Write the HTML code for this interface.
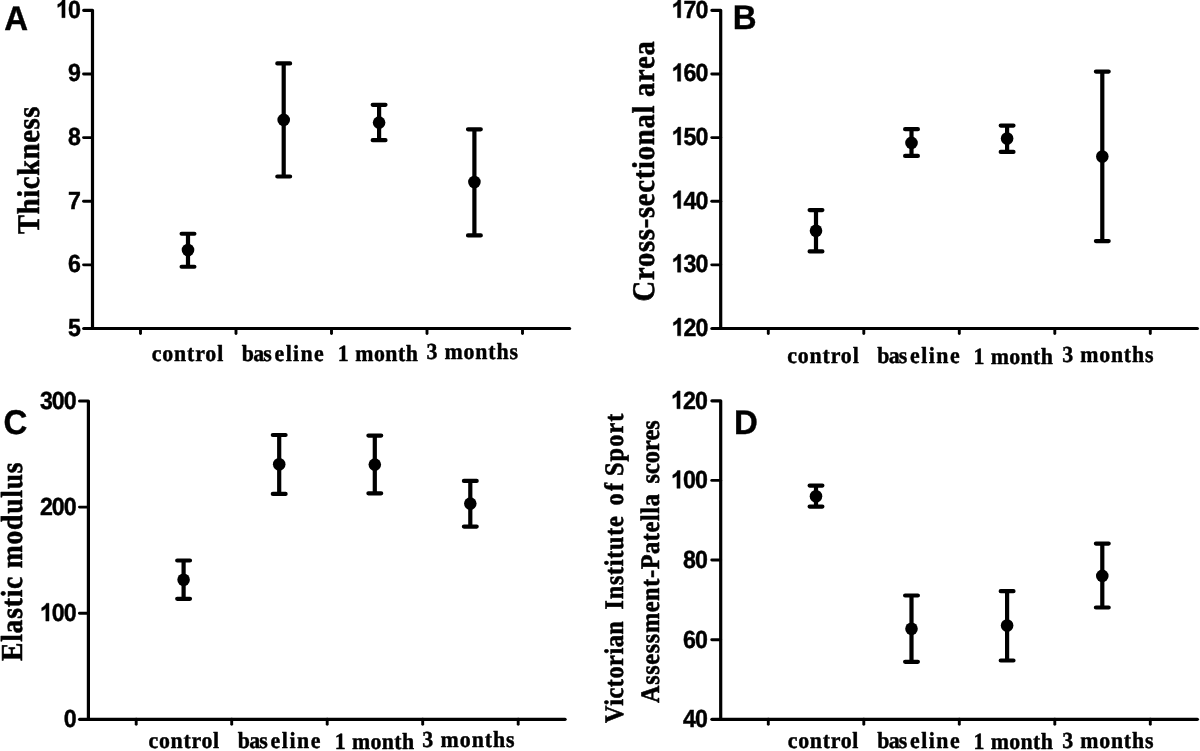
<!DOCTYPE html>
<html><head><meta charset="utf-8"><title>Figure</title>
<style>
html,body{margin:0;padding:0;background:#fff;}
body{width:1200px;height:751px;overflow:hidden;font-family:"Liberation Sans",sans-serif;}
svg{display:block;text-rendering:geometricPrecision;will-change:transform;}
.ax{stroke:#000;stroke-width:3.2;fill:none;stroke-linecap:round;stroke-linejoin:round;}
.tk{stroke:#000;stroke-width:2.9;fill:none;stroke-linecap:butt;}
.eb{stroke:#000;stroke-width:4.2;fill:none;stroke-linecap:round;}
.dot{fill:#000;}
.num{font-family:"Liberation Sans",sans-serif;font-weight:bold;font-size:24.8px;text-anchor:start;fill:#000;stroke:#000;stroke-width:0.45;stroke-linejoin:round;}
.one{fill:#000;stroke:#000;stroke-width:37.2;stroke-linejoin:round;}
.let{font-family:"Liberation Sans",sans-serif;font-weight:bold;font-size:33px;fill:#000;stroke:#000;stroke-width:0.4;stroke-linejoin:round;}
.xl{font-family:"Liberation Serif",serif;font-weight:bold;font-size:23px;fill:#000;stroke:#000;stroke-width:0.45;stroke-linejoin:round;}
.yl{font-family:"Liberation Serif",serif;font-weight:bold;fill:#000;stroke:#000;stroke-width:0.55;stroke-linejoin:round;}
</style></head><body>
<svg width="1200" height="751" viewBox="0 0 1200 751">
<rect width="1200" height="751" fill="#fff"/>
<g id="panelA">
<path class="ax" d="M83.70 10.35 H92.50 V328.50"/>
<path class="ax" d="M83.70 328.50 H569.60"/>
<g transform="translate(80.80 17.65) scale(0.935 1)">
<path class="one" transform="translate(-26.59 0) scale(0.012109 -0.012109)" d="M806 0H525V1059Q371 915 162 846V1101Q272 1137 401 1237.5Q530 1338 578 1472H806Z"/>
<text class="num" x="-13.79" y="0">0</text>
</g>
<path class="tk" style="stroke-linecap:round" d="M83.55 73.98 H92.50"/>
<g transform="translate(80.80 81.28) scale(0.935 1)">
<text class="num" x="-13.79" y="0">9</text>
</g>
<path class="tk" style="stroke-linecap:round" d="M83.55 137.61 H92.50"/>
<g transform="translate(80.80 144.91) scale(0.935 1)">
<text class="num" x="-13.79" y="0">8</text>
</g>
<path class="tk" style="stroke-linecap:round" d="M83.55 201.24 H92.50"/>
<g transform="translate(80.80 208.54) scale(0.935 1)">
<text class="num" x="-13.79" y="0">7</text>
</g>
<path class="tk" style="stroke-linecap:round" d="M83.55 264.87 H92.50"/>
<g transform="translate(80.80 272.17) scale(0.935 1)">
<text class="num" x="-13.79" y="0">6</text>
</g>
<g transform="translate(80.80 335.80) scale(0.935 1)">
<text class="num" x="-13.79" y="0">5</text>
</g>
<path class="tk" style="stroke-linecap:round" d="M140.50 328.50 V333.45"/>
<path class="tk" style="stroke-linecap:round" d="M236.00 328.50 V333.45"/>
<path class="tk" style="stroke-linecap:round" d="M331.50 328.50 V333.45"/>
<path class="tk" style="stroke-linecap:round" d="M427.00 328.50 V333.45"/>
<path class="tk" style="stroke-linecap:round" d="M522.50 328.50 V333.45"/>
<path class="eb" d="M188.00 233.75 V266.75 M181.60 233.75 H194.40 M181.60 266.75 H194.40"/>
<circle class="dot" cx="188.00" cy="250.00" r="6.3"/>
<path class="eb" d="M283.70 63.40 V176.50 M277.30 63.40 H290.10 M277.30 176.50 H290.10"/>
<circle class="dot" cx="283.70" cy="119.90" r="6.3"/>
<path class="eb" d="M379.10 104.80 V140.20 M372.70 104.80 H385.50 M372.70 140.20 H385.50"/>
<circle class="dot" cx="379.10" cy="122.60" r="6.3"/>
<path class="eb" d="M474.40 129.30 V235.40 M468.00 129.30 H480.80 M468.00 235.40 H480.80"/>
<circle class="dot" cx="474.40" cy="182.05" r="6.3"/>
<text class="let" transform="translate(4.20 29.65) scale(1 1.04)">A</text>
<text class="xl" transform="translate(151.80 360.50) scale(0.95 1.0)" textLength="75.16" lengthAdjust="spacing">control</text>
<text class="xl" transform="translate(241.80 360.50) scale(0.95 1.0)" textLength="31.58" lengthAdjust="spacing">bas</text>
<text class="xl" transform="translate(274.60 360.50) scale(0.95 1.0)" textLength="51.68" lengthAdjust="spacing">eline</text>
<text class="xl" transform="translate(337.80 360.70) scale(0.95 1.0)" textLength="84.32" lengthAdjust="spacing">1 month</text>
<text class="xl" transform="translate(426.50 359.40) scale(0.95 1.0)" textLength="96.21" lengthAdjust="spacing">3 months</text>
<text class="yl" font-size="30" transform="translate(39.40 234.00) rotate(-90) scale(0.95 1.05)" textLength="134.11" lengthAdjust="spacing">Thickness</text>
</g>
<g id="panelB">
<path class="ax" d="M711.90 10.35 H720.70 V328.50"/>
<path class="ax" d="M711.90 328.50 H1197.40"/>
<g transform="translate(708.40 17.65) scale(0.935 1)">
<path class="one" transform="translate(-39.38 0) scale(0.012109 -0.012109)" d="M806 0H525V1059Q371 915 162 846V1101Q272 1137 401 1237.5Q530 1338 578 1472H806Z"/>
<text class="num" x="-26.59 -13.79" y="0">70</text>
</g>
<path class="tk" style="stroke-linecap:round" d="M711.75 73.98 H720.70"/>
<g transform="translate(708.40 81.28) scale(0.935 1)">
<path class="one" transform="translate(-39.38 0) scale(0.012109 -0.012109)" d="M806 0H525V1059Q371 915 162 846V1101Q272 1137 401 1237.5Q530 1338 578 1472H806Z"/>
<text class="num" x="-26.59 -13.79" y="0">60</text>
</g>
<path class="tk" style="stroke-linecap:round" d="M711.75 137.61 H720.70"/>
<g transform="translate(708.40 144.91) scale(0.935 1)">
<path class="one" transform="translate(-39.38 0) scale(0.012109 -0.012109)" d="M806 0H525V1059Q371 915 162 846V1101Q272 1137 401 1237.5Q530 1338 578 1472H806Z"/>
<text class="num" x="-26.59 -13.79" y="0">50</text>
</g>
<path class="tk" style="stroke-linecap:round" d="M711.75 201.24 H720.70"/>
<g transform="translate(708.40 208.54) scale(0.935 1)">
<path class="one" transform="translate(-39.38 0) scale(0.012109 -0.012109)" d="M806 0H525V1059Q371 915 162 846V1101Q272 1137 401 1237.5Q530 1338 578 1472H806Z"/>
<text class="num" x="-26.59 -13.79" y="0">40</text>
</g>
<path class="tk" style="stroke-linecap:round" d="M711.75 264.87 H720.70"/>
<g transform="translate(708.40 272.17) scale(0.935 1)">
<path class="one" transform="translate(-39.38 0) scale(0.012109 -0.012109)" d="M806 0H525V1059Q371 915 162 846V1101Q272 1137 401 1237.5Q530 1338 578 1472H806Z"/>
<text class="num" x="-26.59 -13.79" y="0">30</text>
</g>
<g transform="translate(708.40 335.80) scale(0.935 1)">
<path class="one" transform="translate(-39.38 0) scale(0.012109 -0.012109)" d="M806 0H525V1059Q371 915 162 846V1101Q272 1137 401 1237.5Q530 1338 578 1472H806Z"/>
<text class="num" x="-26.59 -13.79" y="0">20</text>
</g>
<path class="tk" style="stroke-linecap:round" d="M768.30 328.50 V333.45"/>
<path class="tk" style="stroke-linecap:round" d="M863.80 328.50 V333.45"/>
<path class="tk" style="stroke-linecap:round" d="M959.30 328.50 V333.45"/>
<path class="tk" style="stroke-linecap:round" d="M1054.80 328.50 V333.45"/>
<path class="tk" style="stroke-linecap:round" d="M1150.30 328.50 V333.45"/>
<path class="eb" d="M816.00 210.10 V251.40 M809.60 210.10 H822.40 M809.60 251.40 H822.40"/>
<circle class="dot" cx="816.00" cy="230.80" r="6.3"/>
<path class="eb" d="M911.50 129.20 V155.90 M905.10 129.20 H917.90 M905.10 155.90 H917.90"/>
<circle class="dot" cx="911.50" cy="142.90" r="6.3"/>
<path class="eb" d="M1007.10 125.60 V151.90 M1000.70 125.60 H1013.50 M1000.70 151.90 H1013.50"/>
<circle class="dot" cx="1007.10" cy="138.50" r="6.3"/>
<path class="eb" d="M1102.30 71.60 V241.10 M1095.90 71.60 H1108.70 M1095.90 241.10 H1108.70"/>
<circle class="dot" cx="1102.30" cy="156.50" r="6.3"/>
<text class="let" transform="translate(732.80 28.70) scale(1 1.04)">B</text>
<text class="xl" transform="translate(787.30 363.40) scale(0.95 1.0)" textLength="75.16" lengthAdjust="spacing">control</text>
<text class="xl" transform="translate(877.30 363.40) scale(0.95 1.0)" textLength="31.58" lengthAdjust="spacing">bas</text>
<text class="xl" transform="translate(910.10 363.40) scale(0.95 1.0)" textLength="52.16" lengthAdjust="spacing">eline</text>
<text class="xl" transform="translate(973.55 363.50) scale(0.95 1.0)" textLength="83.53" lengthAdjust="spacing">1 month</text>
<text class="xl" transform="translate(1062.30 361.90) scale(0.95 1.0)" textLength="95.89" lengthAdjust="spacing">3 months</text>
<text class="yl" font-size="30" transform="translate(654.20 301.40) rotate(-90) scale(0.95 1.05)" textLength="273.79" lengthAdjust="spacing">Cross-sectional area</text>
</g>
<g id="panelC">
<path class="ax" d="M79.60 401.00 H88.40 V719.30"/>
<path class="ax" d="M79.60 719.30 H565.10"/>
<g transform="translate(76.70 408.90) scale(0.935 1)">
<text class="num" x="-39.38 -26.59 -13.79" y="0">300</text>
</g>
<path class="tk" style="stroke-linecap:round" d="M79.45 507.10 H88.40"/>
<g transform="translate(76.70 515.00) scale(0.935 1)">
<text class="num" x="-39.38 -26.59 -13.79" y="0">200</text>
</g>
<path class="tk" style="stroke-linecap:round" d="M79.45 613.20 H88.40"/>
<g transform="translate(76.70 621.10) scale(0.935 1)">
<path class="one" transform="translate(-39.38 0) scale(0.012109 -0.012109)" d="M806 0H525V1059Q371 915 162 846V1101Q272 1137 401 1237.5Q530 1338 578 1472H806Z"/>
<text class="num" x="-26.59 -13.79" y="0">00</text>
</g>
<g transform="translate(76.70 727.20) scale(0.935 1)">
<text class="num" x="-13.79" y="0">0</text>
</g>
<path class="tk" style="stroke-linecap:round" d="M136.20 719.30 V724.25"/>
<path class="tk" style="stroke-linecap:round" d="M231.70 719.30 V724.25"/>
<path class="tk" style="stroke-linecap:round" d="M327.20 719.30 V724.25"/>
<path class="tk" style="stroke-linecap:round" d="M422.70 719.30 V724.25"/>
<path class="tk" style="stroke-linecap:round" d="M518.20 719.30 V724.25"/>
<path class="eb" d="M183.60 560.50 V598.80 M177.20 560.50 H190.00 M177.20 598.80 H190.00"/>
<circle class="dot" cx="183.60" cy="579.80" r="6.3"/>
<path class="eb" d="M279.20 435.00 V493.90 M272.80 435.00 H285.60 M272.80 493.90 H285.60"/>
<circle class="dot" cx="279.20" cy="464.30" r="6.3"/>
<path class="eb" d="M374.80 435.60 V493.30 M368.40 435.60 H381.20 M368.40 493.30 H381.20"/>
<circle class="dot" cx="374.80" cy="464.60" r="6.3"/>
<path class="eb" d="M470.30 480.90 V526.60 M463.90 480.90 H476.70 M463.90 526.60 H476.70"/>
<circle class="dot" cx="470.30" cy="503.60" r="6.3"/>
<text class="let" transform="translate(3.40 433.90) scale(1 1.04)">C</text>
<text class="xl" transform="translate(148.55 748.00) scale(0.95 1.0)" textLength="74.32" lengthAdjust="spacing">control</text>
<text class="xl" transform="translate(237.80 748.00) scale(0.95 1.0)" textLength="31.58" lengthAdjust="spacing">bas</text>
<text class="xl" transform="translate(270.60 748.00) scale(0.95 1.0)" textLength="52.42" lengthAdjust="spacing">eline</text>
<text class="xl" transform="translate(334.80 748.70) scale(0.95 1.0)" textLength="83.53" lengthAdjust="spacing">1 month</text>
<text class="xl" transform="translate(422.30 747.20) scale(0.95 1.0)" textLength="97.16" lengthAdjust="spacing">3 months</text>
<text class="yl" font-size="29" transform="translate(22.00 661.00) rotate(-90) scale(0.95 1.05)" textLength="209.05" lengthAdjust="spacing">Elastic modulus</text>
</g>
<g id="panelD">
<path class="ax" d="M711.90 400.80 H720.70 V719.30"/>
<path class="ax" d="M711.90 719.30 H1197.40"/>
<g transform="translate(707.80 408.70) scale(0.935 1)">
<path class="one" transform="translate(-39.38 0) scale(0.012109 -0.012109)" d="M806 0H525V1059Q371 915 162 846V1101Q272 1137 401 1237.5Q530 1338 578 1472H806Z"/>
<text class="num" x="-26.59 -13.79" y="0">20</text>
</g>
<path class="tk" style="stroke-linecap:round" d="M711.75 480.40 H720.70"/>
<g transform="translate(707.80 488.30) scale(0.935 1)">
<path class="one" transform="translate(-39.38 0) scale(0.012109 -0.012109)" d="M806 0H525V1059Q371 915 162 846V1101Q272 1137 401 1237.5Q530 1338 578 1472H806Z"/>
<text class="num" x="-26.59 -13.79" y="0">00</text>
</g>
<path class="tk" style="stroke-linecap:round" d="M711.75 560.00 H720.70"/>
<g transform="translate(707.80 567.90) scale(0.935 1)">
<text class="num" x="-26.59 -13.79" y="0">80</text>
</g>
<path class="tk" style="stroke-linecap:round" d="M711.75 639.70 H720.70"/>
<g transform="translate(707.80 647.60) scale(0.935 1)">
<text class="num" x="-26.59 -13.79" y="0">60</text>
</g>
<g transform="translate(707.80 727.20) scale(0.935 1)">
<text class="num" x="-26.59 -13.79" y="0">40</text>
</g>
<path class="tk" style="stroke-linecap:round" d="M768.30 719.30 V724.25"/>
<path class="tk" style="stroke-linecap:round" d="M863.80 719.30 V724.25"/>
<path class="tk" style="stroke-linecap:round" d="M959.30 719.30 V724.25"/>
<path class="tk" style="stroke-linecap:round" d="M1054.80 719.30 V724.25"/>
<path class="tk" style="stroke-linecap:round" d="M1150.30 719.30 V724.25"/>
<path class="eb" d="M816.00 485.60 V506.60 M809.60 485.60 H822.40 M809.60 506.60 H822.40"/>
<circle class="dot" cx="816.00" cy="496.30" r="6.3"/>
<path class="eb" d="M911.50 595.50 V661.80 M905.10 595.50 H917.90 M905.10 661.80 H917.90"/>
<circle class="dot" cx="911.50" cy="628.80" r="6.3"/>
<path class="eb" d="M1007.10 591.20 V660.50 M1000.70 591.20 H1013.50 M1000.70 660.50 H1013.50"/>
<circle class="dot" cx="1007.10" cy="625.50" r="6.3"/>
<path class="eb" d="M1102.30 543.60 V607.50 M1095.90 543.60 H1108.70 M1095.90 607.50 H1108.70"/>
<circle class="dot" cx="1102.30" cy="575.90" r="6.3"/>
<text class="let" transform="translate(734.10 434.00) scale(1 1.04)">D</text>
<text class="xl" transform="translate(787.80 748.00) scale(0.95 1.0)" textLength="74.32" lengthAdjust="spacing">control</text>
<text class="xl" transform="translate(877.30 748.00) scale(0.95 1.0)" textLength="31.58" lengthAdjust="spacing">bas</text>
<text class="xl" transform="translate(910.10 748.00) scale(0.95 1.0)" textLength="52.16" lengthAdjust="spacing">eline</text>
<text class="xl" transform="translate(973.55 749.30) scale(0.95 1.0)" textLength="83.53" lengthAdjust="spacing">1 month</text>
<text class="xl" transform="translate(1062.30 747.70) scale(0.95 1.0)" textLength="95.89" lengthAdjust="spacing">3 months</text>
<text class="yl" font-size="25.5" transform="translate(623.30 722.90) rotate(-90) scale(0.95 1.05)" textLength="107.05" lengthAdjust="spacing">Victorian</text>
<text class="yl" font-size="25.5" transform="translate(623.30 609.40) rotate(-90) scale(0.95 1.05)" textLength="98.00" lengthAdjust="spacing">Institute</text>
<text class="yl" font-size="25.5" transform="translate(623.30 505.50) rotate(-90) scale(0.95 1.05)" textLength="23.89" lengthAdjust="spacing">of</text>
<text class="yl" font-size="25.5" transform="translate(623.30 476.00) rotate(-90) scale(0.95 1.05)" textLength="65.68" lengthAdjust="spacing">Sport</text>
<text class="yl" font-size="25.5" transform="translate(658.50 702.90) rotate(-90) scale(0.95 1.05)" textLength="219.68" lengthAdjust="spacing">Assessment-Patella</text>
<text class="yl" font-size="25.5" transform="translate(658.50 483.60) rotate(-90) scale(0.95 1.05)" textLength="66.63" lengthAdjust="spacing">scores</text>
</g>
</svg></body></html>
